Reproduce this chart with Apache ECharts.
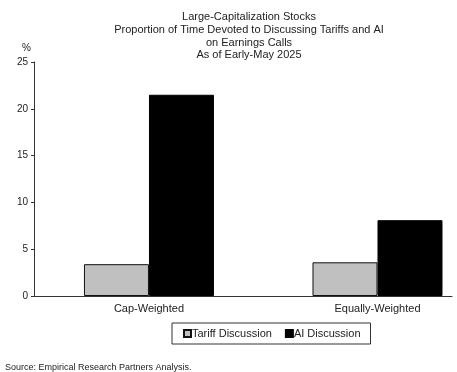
<!DOCTYPE html>
<html><head><meta charset="utf-8">
<script src="https://cdn.jsdelivr.net/npm/echarts@6/dist/echarts.min.js"></script>
<style>html,body{margin:0;padding:0;background:#fff}#c{width:457px;height:372px}</style>
</head><body><div id="c"></div>
<script>
const categories = ['Cap-Weighted', 'Equally-Weighted'];
const tariff = [3.4, 3.6];
const ai = [21.5, 8.1];
const seriesNames = ['Tariff Discussion', 'AI Discussion'];
const titleLines = ['Large-Capitalization Stocks', 'Proportion of Time Devoted to Discussing Tariffs and AI', 'on Earnings Calls', 'As of Early-May 2025'];
const source = 'Source: Empirical Research Partners Analysis.';
const F = 'Liberation Sans';
const idx = categories.map((c, i) => i);
const chart = echarts.init(document.getElementById('c'));
chart.setOption({
  animation: false,
  title: [{
    text: titleLines.join('\n'), left: 244, top: 6, textAlign: 'center',
    textStyle: {fontFamily: F, fontSize: 11, fontWeight: 'normal', color: '#222', lineHeight: 12.7}
  }, {
    text: source, left: 0, top: 358,
    textStyle: {fontFamily: F, fontSize: 9, fontWeight: 'normal', color: '#222'}
  }, {
    text: '%', left: 17, top: 38,
    textStyle: {fontFamily: F, fontSize: 10, fontWeight: 'normal', color: '#222'}
  }],
  legend: {
    data: seriesNames, left: 172, top: 323, orient: 'horizontal',
    icon: 'rect', itemWidth: 7, itemHeight: 7, itemGap: 13, padding: [5, 10, 5, 11],
    borderColor: '#333', borderWidth: 1, borderRadius: 0,
    textStyle: {fontFamily: F, fontSize: 11, color: '#222', padding: [0, 0, 0, -4]}
  },
  grid: {left: 34, right: 5, top: 62, height: 234, containLabel: false},
  xAxis: {
    type: 'value', min: -0.503, max: 1.326,
    axisLine: {show: true, onZero: false, lineStyle: {color: '#333', width: 1}},
    axisTick: {show: false},
    splitLine: {show: false},
    axisLabel: {
      customValues: idx,
      fontFamily: F, fontSize: 11, color: '#222', margin: 7,
      formatter: v => (Math.abs(v - Math.round(v)) < 1e-6 && categories[Math.round(v)]) || ''
    }
  },
  yAxis: {
    type: 'value', min: 0, max: 25, interval: 5,
    axisLine: {show: true, onZero: false, lineStyle: {color: '#333', width: 1}},
    axisTick: {show: true, length: 3, lineStyle: {color: '#333'}},
    splitLine: {show: false},
    axisLabel: {fontFamily: F, fontSize: 10, color: '#222', margin: 6}
  },
  series: [{
    name: seriesNames[0], type: 'bar', data: idx.map(i => [i, tariff[i]]), barWidth: 65, barGap: '0%',
    itemStyle: {color: '#c0c0c0', borderColor: '#111', borderWidth: 1}
  }, {
    name: seriesNames[1], type: 'bar', data: idx.map(i => [i, ai[i]]), barWidth: 65, barGap: '0%',
    itemStyle: {color: '#000', borderColor: '#000', borderWidth: 1}
  }]
});
</script></body></html>
